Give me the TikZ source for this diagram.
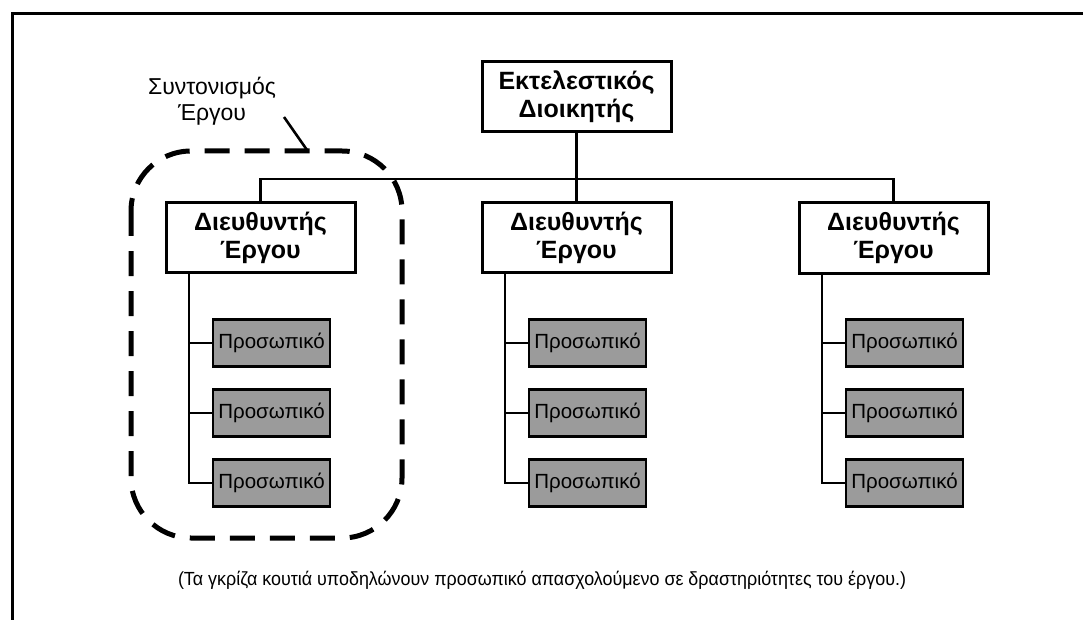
\documentclass[tikz,border=0pt]{standalone}
\usepackage{fontspec}
\setmainfont{Liberation Sans}
\usepackage{graphicx}
\definecolor{staffgray}{RGB}{155,155,155}
\tikzset{
  every node/.style={inner sep=0pt, outer sep=0pt},
  headbox/.style={draw, line width=3pt, fill=white, minimum width=189pt, minimum height=70pt, align=center, font=\fontsize{25}{28}\selectfont\bfseries},
  staffbox/.style={draw, line width=2.8pt, fill=staffgray, minimum width=117pt, minimum height=47pt, font=\fontsize{20.5}{24}\selectfont},
  link/.style={line width=2.6pt},
  framebar/.style={line width=3pt},
  coordline/.style={line width=5pt, dash pattern=on 25pt off 15pt},
}
\begin{document}
\begin{tikzpicture}[x=1pt,y=-1pt]
\useasboundingbox[fill=white] (0,0) rectangle (1083,620);
\draw[framebar] (1083,14) -- (12,14) -- (12,620);

% coordination outline
\draw[coordline, rounded corners=60pt] (131,151) rectangle (402,538);
\node[font=\fontsize{23}{26}\selectfont, align=center] (coordlabel) at (212,101) {Συντονισμός\\Έργου};
\coordinate (leadA) at (284,117);
\coordinate (leadB) at (307,150);
\draw[link] (leadA) -- (leadB);

% head
\node[headbox] (exec) at (576.5,96.5) {Εκτελεστικός\\Διοικητής};

% managers
\node[headbox] (m1) at (260.5,237.5) {Διευθυντής\\Έργου};
\node[headbox] (m2) at (576.5,237.5) {Διευθυντής\\Έργου};
\node[headbox] (m3) at (893.5,238) {Διευθυντής\\Έργου};

\coordinate (busy) at (576.5,179);
\draw[link] (exec.south) -- (m2.north);
\draw[link] (m1.north) -- (m1.north |- busy) -- (m3.north |- busy) -- (m3.north);

% staff
\foreach \m/\cx in {1/271.5, 2/587.5, 3/904.5}{
  \node[staffbox] (p\m a) at (\cx,343) {Προσωπικό};
  \node[staffbox] (p\m b) at (\cx,413) {Προσωπικό};
  \node[staffbox] (p\m c) at (\cx,483) {Προσωπικό};
  \coordinate (stem\m) at ([xshift=23pt]m\m.south west);
  \draw[link] (stem\m) |- (p\m c.west);
  \draw[link] (stem\m |- p\m a.west) -- (p\m a.west);
  \draw[link] (stem\m |- p\m b.west) -- (p\m b.west);
}

\node (caption) at (542,580) {\resizebox{728pt}{\height}{\fontsize{19}{22}\selectfont (Τα γκρίζα κουτιά υποδηλώνουν προσωπικό απασχολούμενο σε δραστηριότητες του έργου.)}};
\end{tikzpicture}
\end{document}
